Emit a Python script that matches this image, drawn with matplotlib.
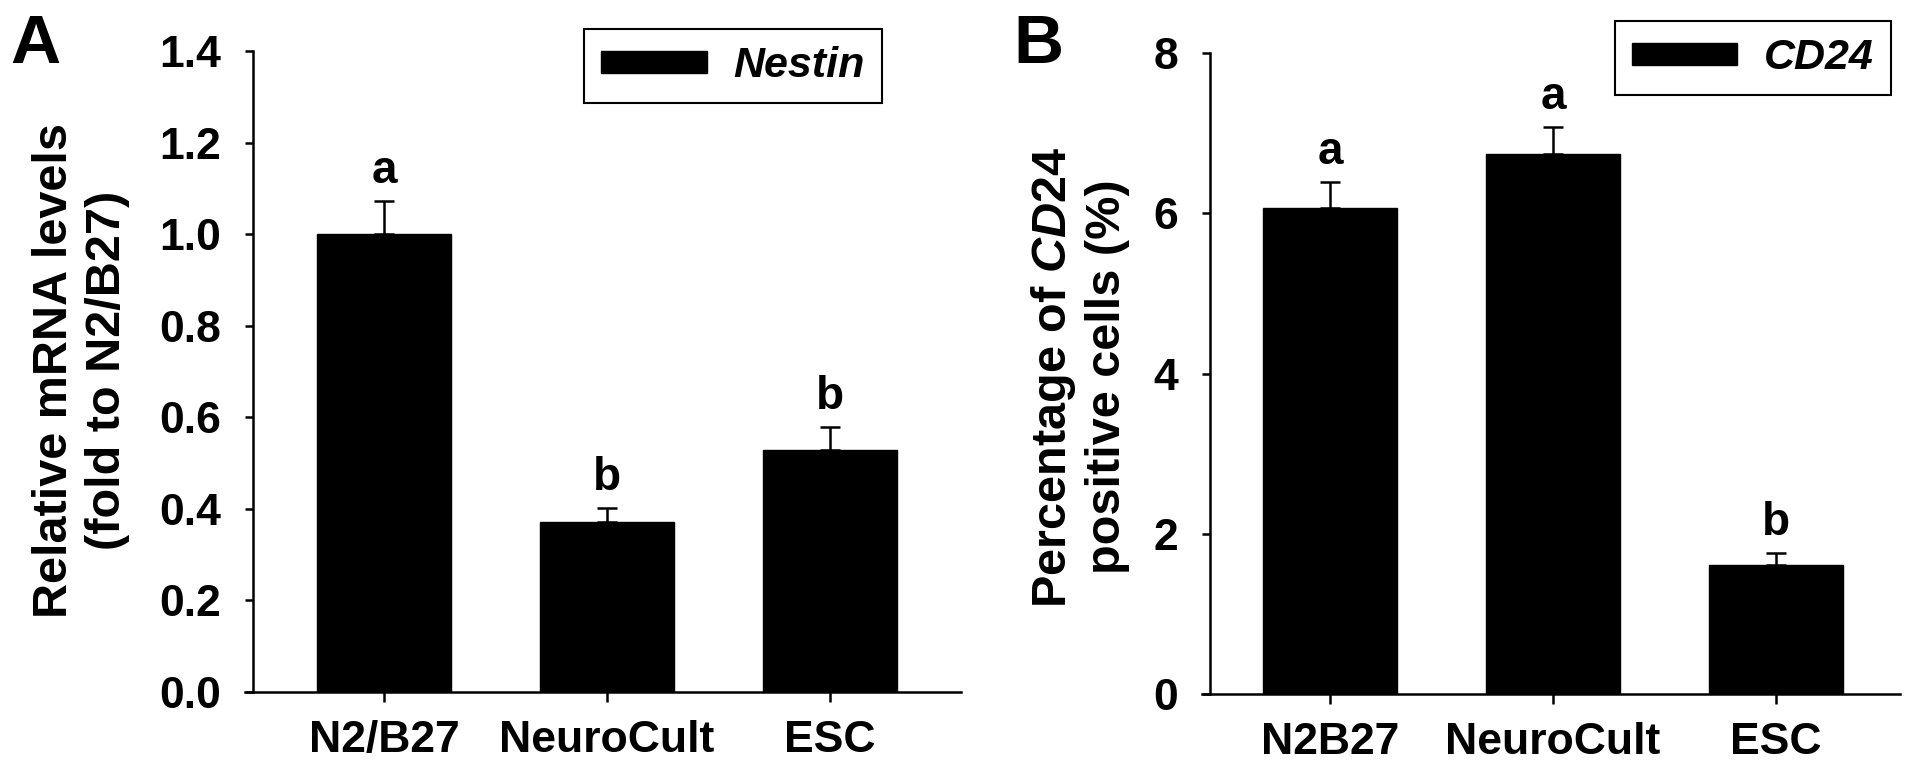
"""
Nestin mRNA and CD24-positive cells across culture media.
"""

import matplotlib
matplotlib.use("Agg")
import matplotlib.pyplot as plt
import numpy as np

plt.rcParams["font.family"] = ["Liberation Sans", "DejaVu Sans"]
plt.rcParams["font.weight"] = "bold"
plt.rcParams["mathtext.fontset"] = "custom"
plt.rcParams["mathtext.rm"] = "Liberation Sans:bold"
plt.rcParams["mathtext.it"] = "Liberation Sans:italic:bold"
plt.rcParams["mathtext.bf"] = "Liberation Sans:bold"

# panel A
groups_a = ["N2/B27", "NeuroCult", "ESC"]
nestin_mean = [1.00, 0.372, 0.528]
nestin_err = [0.073, 0.030, 0.050]
nestin_letters = ["a", "b", "b"]
yticks_a = [0.0, 0.2, 0.4, 0.6, 0.8, 1.0, 1.2, 1.4]

# panel B
groups_b = ["N2B27", "NeuroCult", "ESC"]
cd24_mean = [6.06, 6.74, 1.61]
cd24_err = [0.33, 0.34, 0.15]
cd24_letters = ["a", "a", "b"]
yticks_b = [0, 2, 4, 6, 8]

W, H = 1913, 775
LW = 1.8


def draw_panel(ax, groups, means, errs, letters, yticks, fmt, xlim, legend_label, legend_corner):
    """
    Black bars with upper error bars and significance letters.
    """
    x = np.arange(len(groups))
    ax.bar(x, means, width=0.6, color="black", edgecolor="black", label=legend_label, zorder=2)
    ax.errorbar(x, means, yerr=[np.zeros(len(x)), errs], fmt="none", ecolor="black",
                elinewidth=LW, capsize=7, capthick=LW, zorder=3)
    for xi, m, e, t in zip(x, means, errs, letters):
        ax.annotate(t, (xi, m + e), xytext=(0, 13), textcoords="offset points",
                    ha="center", va="baseline", fontsize=33, fontweight="bold")

    ax.set_xlim(*xlim)
    ax.set_ylim(yticks[0], yticks[-1])
    ax.set_xticks(x)
    ax.set_xticklabels(groups)
    ax.set_yticks(yticks)
    ax.set_yticklabels([fmt.format(v) for v in yticks])

    for side in ["top", "right"]:
        ax.spines[side].set_visible(False)
    for side in ["left", "bottom"]:
        ax.spines[side].set_linewidth(LW)
    ax.spines["bottom"].set_bounds(xlim[0] - 0.038, xlim[1])

    ax.tick_params(axis="y", direction="out", length=6, width=LW, pad=17, labelsize=32)
    ax.tick_params(axis="x", direction="out", length=7, width=LW, pad=13, labelsize=32)

    leg = ax.legend(loc="upper right", bbox_to_anchor=(legend_corner[0] / W, 1 - legend_corner[1] / H),
                    bbox_transform=ax.figure.transFigure,
                    prop=dict(style="italic", weight="bold", size=31),
                    frameon=True, fancybox=False, edgecolor="black", framealpha=1,
                    handlelength=2.45, handleheight=0.42, handletextpad=0.62,
                    borderpad=0.4, borderaxespad=0)
    leg.get_frame().set_linewidth(1.5)


fig = plt.figure(figsize=(W / 100, H / 100), dpi=100)
ax_a = fig.add_axes([253 / W, 1 - 692 / H, 708 / W, 641 / H])
ax_b = fig.add_axes([1210 / W, 1 - 694 / H, 690 / W, 641 / H])

draw_panel(ax_a, groups_a, nestin_mean, nestin_err, nestin_letters, yticks_a, "{:.1f}",
           (-0.587, 2.587), "Nestin", (882, 29))
draw_panel(ax_b, groups_b, cd24_mean, cd24_err, cd24_letters, yticks_b, "{:d}",
           (-0.538, 2.556), "CD24", (1891, 21))

fig.text(81 / W, 1 - 370 / H, "Relative mRNA levels\n(fold to N2/B27)", rotation=90,
         ha="center", va="center", multialignment="center", fontsize=35, fontweight="bold")
fig.text(1080 / W, 1 - 377 / H, "Percentage of $\\mathit{CD24}$\npositive cells (%)", rotation=90,
         ha="center", va="center", multialignment="center", fontsize=35, fontweight="bold")

fig.text(10 / W, 1 - 63 / H, "A", ha="left", va="baseline", fontsize=50, fontweight="bold")
fig.text(1013 / W, 1 - 63 / H, "B", ha="left", va="baseline", fontsize=50, fontweight="bold")

fig.savefig("out.png", dpi=100)
